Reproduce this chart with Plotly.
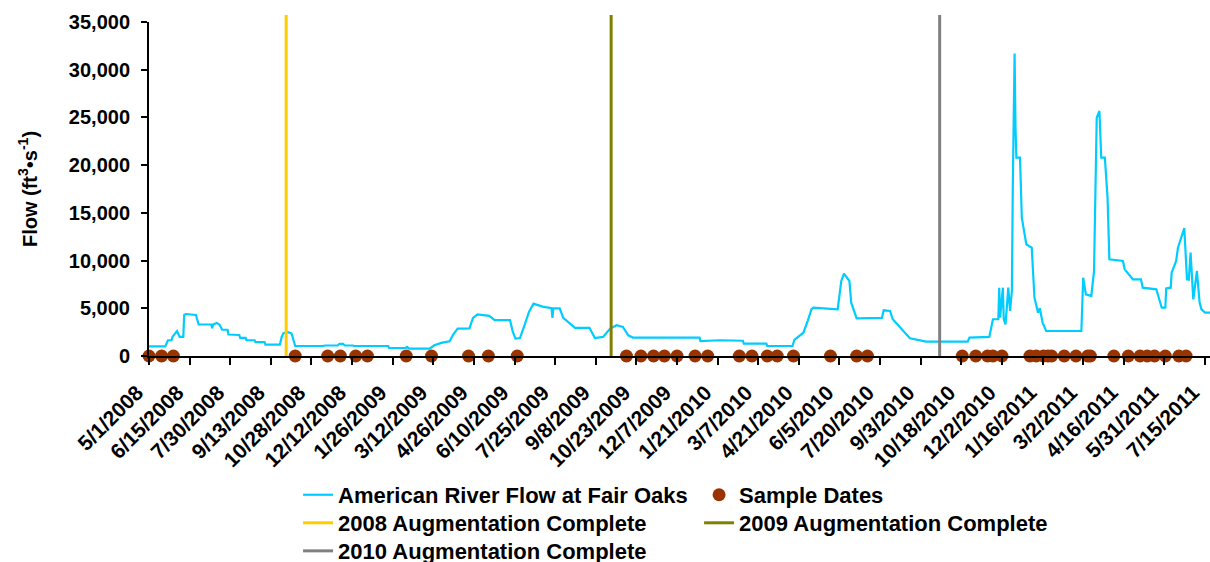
import plotly.graph_objects as go
import pandas as pd

# ---------------- data ----------------
flow_dates = [
    "2008-05-01", "2008-05-19", "2008-05-22", "2008-05-26", "2008-05-27", "2008-06-01",
    "2008-06-04", "2008-06-08", "2008-06-09", "2008-06-11", "2008-06-22", "2008-06-23",
    "2008-06-25", "2008-07-09", "2008-07-10", "2008-07-11", "2008-07-15", "2008-07-18",
    "2008-07-21", "2008-07-27", "2008-07-28", "2008-08-09", "2008-08-10", "2008-08-16",
    "2008-08-17", "2008-08-26", "2008-08-27", "2008-09-06", "2008-09-07", "2008-09-23",
    "2008-09-25", "2008-09-27", "2008-10-02", "2008-10-06", "2008-10-10", "2008-11-10",
    "2008-11-12", "2008-11-26", "2008-11-28", "2008-12-02", "2008-12-04", "2008-12-13",
    "2008-12-14", "2009-01-21", "2009-01-22", "2009-02-09", "2009-02-11", "2009-02-13",
    "2009-03-08", "2009-03-13", "2009-03-22", "2009-03-30", "2009-04-03", "2009-04-08",
    "2009-04-21", "2009-04-25", "2009-04-30", "2009-05-13", "2009-05-19", "2009-06-05",
    "2009-06-08", "2009-06-11", "2009-06-16", "2009-06-21", "2009-06-26", "2009-07-01",
    "2009-07-11", "2009-07-21", "2009-07-22", "2009-07-23", "2009-07-30", "2009-08-03",
    "2009-08-16", "2009-09-01", "2009-09-07", "2009-09-16", "2009-09-24", "2009-10-01",
    "2009-10-08", "2009-10-14", "2009-10-19", "2010-01-01", "2010-01-02", "2010-01-23",
    "2010-02-18", "2010-02-19", "2010-03-16", "2010-03-17", "2010-04-14", "2010-04-16",
    "2010-04-26", "2010-05-01", "2010-05-05", "2010-05-07", "2010-06-03", "2010-06-07",
    "2010-06-10", "2010-06-16", "2010-06-18", "2010-06-24", "2010-07-22", "2010-07-24",
    "2010-07-31", "2010-08-03", "2010-08-13", "2010-08-22", "2010-09-09", "2010-10-25",
    "2010-10-27", "2010-11-18", "2010-11-22", "2010-11-28", "2010-11-29", "2010-11-30",
    "2010-12-03", "2010-12-04", "2010-12-06", "2010-12-09", "2010-12-11", "2010-12-13",
    "2010-12-14", "2010-12-16", "2010-12-17", "2010-12-18", "2010-12-22", "2010-12-24",
    "2010-12-29", "2011-01-04", "2011-01-07", "2011-01-11", "2011-01-13", "2011-01-16",
    "2011-01-20", "2011-02-28", "2011-03-02", "2011-03-05", "2011-03-11", "2011-03-14",
    "2011-03-17", "2011-03-20", "2011-03-22", "2011-03-26", "2011-03-29", "2011-03-31",
    "2011-04-15", "2011-04-17", "2011-04-26", "2011-05-05", "2011-05-07", "2011-05-22",
    "2011-05-28", "2011-06-01", "2011-06-02", "2011-06-07", "2011-06-08", "2011-06-13",
    "2011-06-15", "2011-06-21", "2011-06-22", "2011-06-25", "2011-06-27", "2011-06-29",
    "2011-07-02", "2011-07-06", "2011-07-09", "2011-07-11", "2011-07-15", "2011-07-22",
]
flow_values = [
    1000, 1000, 1650, 1650, 2000, 2600,
    2000, 2000, 4300, 4400, 4300, 4000,
    3300, 3300, 2900, 3300, 3450, 3300,
    2750, 2750, 2250, 2200, 1900, 1900,
    1650, 1650, 1450, 1450, 1200, 1200,
    2000, 2400, 2500, 2350, 1050, 1050,
    1100, 1100, 1280, 1280, 1100, 1100,
    1050, 1050, 840, 840, 950, 770,
    770, 1120, 1400, 1540, 2250, 2870,
    2900, 4000, 4370, 4200, 3750, 3750,
    2540, 1820, 1880, 3220, 4620, 5490,
    5170, 5000, 4000, 5000, 5000, 4000,
    2950, 2950, 1880, 2000, 2870, 3220,
    3040, 2170, 1930, 1930, 1570, 1650,
    1600, 1290, 1290, 1050, 1050, 1700,
    2440, 3740, 4900, 5060, 4900, 7860,
    8630, 7860, 5590, 3950, 4000, 4790,
    4720, 3850, 2800, 1860, 1500, 1500,
    1920, 2000, 3850, 3850, 7160, 4010,
    7160, 3850, 3320, 7160, 4720, 6810,
    17600, 31700, 24000, 20780, 20780, 14490,
    11700, 11350, 6110, 4540, 5000, 3490,
    2620, 2620, 8200, 6460, 6290, 8900,
    24970, 25680, 20780, 20780, 16590, 10130,
    9960, 9080, 8040, 8040, 7160, 6990,
    5060, 5060, 7090, 7160, 8730, 9960,
    11350, 13280, 13400, 8040, 8000, 10830,
    5940, 8910, 5590, 4890, 4540, 4540,
]

sample_dates = [
    "2008-05-01", "2008-05-15", "2008-05-28", "2008-10-10", "2008-11-15", "2008-11-29",
    "2008-12-16", "2008-12-29", "2009-02-10", "2009-03-10", "2009-04-20", "2009-05-12",
    "2009-06-13", "2009-10-12", "2009-10-28", "2009-11-11", "2009-11-23", "2009-12-07",
    "2009-12-27", "2010-01-10", "2010-02-14", "2010-02-28", "2010-03-17", "2010-03-28",
    "2010-04-15", "2010-05-26", "2010-06-24", "2010-07-06", "2010-10-19", "2010-11-03",
    "2010-11-16", "2010-11-22", "2010-12-02", "2011-01-02", "2011-01-09", "2011-01-17",
    "2011-01-22", "2011-01-26", "2011-02-09", "2011-02-22", "2011-03-07", "2011-03-10",
    "2011-04-05", "2011-04-21", "2011-05-04", "2011-05-12", "2011-05-20", "2011-06-01",
    "2011-06-16", "2011-06-24",
]
sample_values = [0] * len(sample_dates)

augmentation_names = ["2008 Augmentation Complete", "2009 Augmentation Complete",
                      "2010 Augmentation Complete"]
augmentation_dates = ["2008-09-30", "2009-09-25", "2010-09-24"]
augmentation_colors = ["#FFCC00", "#808000", "#808080"]
augmentation_legends = ["legend2", "legend2", "legend3"]

x_tick_labels = [
    "5/1/2008", "6/15/2008", "7/30/2008", "9/13/2008", "10/28/2008", "12/12/2008",
    "1/26/2009", "3/12/2009", "4/26/2009", "6/10/2009", "7/25/2009", "9/8/2009",
    "10/23/2009", "12/7/2009", "1/21/2010", "3/7/2010", "4/21/2010", "6/5/2010",
    "7/20/2010", "9/3/2010", "10/18/2010", "12/2/2010", "1/16/2011", "3/2/2011",
    "4/16/2011", "5/31/2011", "7/15/2011",
]
x_tick_vals = [pd.to_datetime(t, format="%m/%d/%Y") for t in x_tick_labels]
y_tick_vals = [0, 5000, 10000, 15000, 20000, 25000, 30000, 35000]
y_tick_labels = ["0", "5,000", "10,000", "15,000", "20,000", "25,000", "30,000", "35,000"]

x_range = ["2008-05-01", "2011-07-20 12:00"]
y_range = [0, 35000]

# ---------------- figure ----------------
FONT = "Liberation Sans, Arial, sans-serif"

fig = go.Figure()

fig.add_trace(go.Scatter(
    x=flow_dates, y=flow_values, mode="lines",
    name="American River Flow at Fair Oaks",
    line=dict(color="#00CCFF", width=2.2),
    legend="legend",
))

fig.add_trace(go.Scatter(
    x=sample_dates, y=sample_values, mode="markers",
    name="Sample Dates",
    marker=dict(color="#993300", size=13, line=dict(width=0)),
    cliponaxis=False,
    legend="legend",
))

for name, d, c, lg in zip(augmentation_names, augmentation_dates,
                          augmentation_colors, augmentation_legends):
    fig.add_shape(
        type="line", xref="x", yref="paper",
        x0=d, x1=d, y0=0, y1=1.021,
        line=dict(color=c, width=3),
        layer="above",
        name=name, showlegend=True, legend=lg,
    )

legend_common = dict(
    orientation="h", xanchor="left", yanchor="middle",
    font=dict(family=FONT, size=22, color="black", weight="bold"),
    bgcolor="rgba(0,0,0,0)", borderwidth=0,
    entrywidth=356, entrywidthmode="pixels",
    itemwidth=30,
)

fig.update_layout(
    width=1210, height=562,
    margin=dict(l=149, r=0, t=22, b=206, autoexpand=False),
    paper_bgcolor="white", plot_bgcolor="white",
    font=dict(family=FONT, size=20, color="black"),
    showlegend=True,
    legend=dict(x=0.1405, y=-0.416, **legend_common),
    legend2=dict(x=0.1405, y=-0.5, **legend_common),
    legend3=dict(x=0.1405, y=-0.584, **legend_common),
    xaxis=dict(
        type="date", range=x_range, automargin=False,
        tickmode="array", tickvals=x_tick_vals, ticktext=x_tick_labels,
        tickangle=-45, ticks="outside", ticklen=7, tickwidth=2, tickcolor="black",
        ticklabelstandoff=7, ticklabelshift=-12, ticklabeloverflow="allow",
        tickfont=dict(family=FONT, size=21, color="black", weight="bold"),
        showline=True, linecolor="black", linewidth=2,
        showgrid=False, zeroline=False,
    ),
    yaxis=dict(
        range=y_range, automargin=False,
        tickmode="array", tickvals=y_tick_vals, ticktext=y_tick_labels,
        ticks="outside", ticklen=6, tickwidth=2, tickcolor="black",
        ticklabelstandoff=7,
        tickfont=dict(family=FONT, size=20, color="black", weight="bold"),
        showline=True, linecolor="black", linewidth=2,
        showgrid=False, zeroline=False,
        title=dict(text="Flow (ft<sup>3</sup>•s<sup>-1</sup>)",
                   font=dict(family=FONT, size=20, color="black", weight="bold"),
                   standoff=26),
    ),
)

fig.write_html(
    "out.html",
    config={"displayModeBar": False},
    post_script="document.body.style.margin='0px';document.body.style.overflow='hidden';",
)
